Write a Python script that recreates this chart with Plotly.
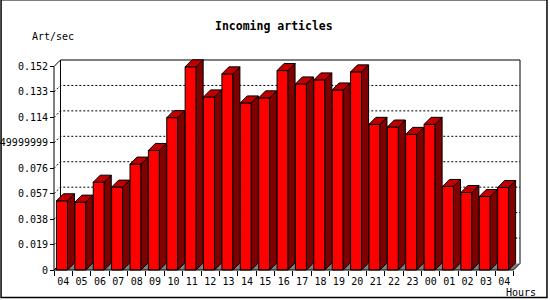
import plotly.graph_objects as go

# ---- data ----
hours = ["04", "05", "06", "07", "08", "09", "10", "11", "12", "13", "14", "15",
         "16", "17", "18", "19", "20", "21", "22", "23", "00", "01", "02", "03", "04"]
values = [0.0517, 0.0507, 0.0656, 0.0619, 0.0791, 0.0893, 0.1138, 0.1518, 0.1293,
          0.1465, 0.1248, 0.1286, 0.149, 0.139, 0.142, 0.1345, 0.148, 0.1088,
          0.1068, 0.1013, 0.1088, 0.0624, 0.0579, 0.0549, 0.0616]
ytickvals = [0, 0.019, 0.038, 0.057, 0.076, 0.095, 0.114, 0.133, 0.152]
yticktext = ["0", "0.019", "0.038", "0.057", "0.076", "0.0949999999", "0.114", "0.133", "0.152"]
title = "Incoming articles"
ylabel = "Art/sec"
xlabel = "Hours"

# ---- geometry (pixels) ----
n = len(values)
ymax = ytickvals[-1]
PX_X = 18.4                 # pixels per category
PX_Y = 203.0 / ymax         # pixels per value unit
DEPTH_BAR = 7.0
DEPTH_WALL = 6.5
PAD = 2.0
dxb, dyb = DEPTH_BAR / PX_X, DEPTH_BAR / PX_Y
dxw, dyw = DEPTH_WALL / PX_X, DEPTH_WALL / PX_Y
padx, pady = PAD / PX_X, PAD / PX_Y

x0r = -0.5 - padx
x1r = n - 0.5 + dxw + padx
y0r = -pady
y1r = ymax + dyw + pady
PW = (x1r - x0r) * PX_X
PH = (y1r - y0r) * PX_Y
L = 54.0 - PAD
B = 30.0 - PAD
T = 300.0 - B - PH
R = 550.0 - L - PW


def pxp(px):
    return (px - L) / PW


def pyp(py):
    return 1 - (py - T) / PH


FRONT_W = 0.6
FRONT_OFF = -0.065
xs = [i + FRONT_OFF for i in range(n)]

fig = go.Figure()
fig.add_trace(go.Bar(x=xs, y=values, width=FRONT_W,
                     marker=dict(color="#FF0000", line=dict(color="black", width=1)),
                     hoverinfo="skip"))

side_x, side_y, top_x, top_y = [], [], [], []
for xc, v in zip(xs, values):
    xl = xc - FRONT_W / 2
    xr = xc + FRONT_W / 2
    side_x += [xr, xr, xr + dxb, xr + dxb, xr, None]
    side_y += [0, v, v + dyb, dyb, 0, None]
    top_x += [xl, xl + dxb, xr + dxb, xr, xl, None]
    top_y += [v, v + dyb, v + dyb, v, v, None]

fig.add_trace(go.Scatter(x=side_x, y=side_y, mode="lines", fill="toself",
                         fillcolor="#800000", line=dict(color="black", width=1),
                         hoverinfo="skip"))
fig.add_trace(go.Scatter(x=top_x, y=top_y, mode="lines", fill="toself",
                         fillcolor="#C00000", line=dict(color="black", width=1),
                         hoverinfo="skip"))

shapes = []
xa, xb = -0.5, n - 0.5
# floor
shapes.append(dict(type="path", xref="x", yref="y", layer="below",
                   path=f"M{xa},0 L{xb},0 L{xb+dxw},{dyw} L{xa+dxw},{dyw} Z",
                   fillcolor="#808080", line=dict(width=0)))
# gridlines
for v in ytickvals[1:-1]:
    shapes.append(dict(type="path", xref="x", yref="y", layer="below",
                       path=f"M{xa},{v} L{xa+dxw},{v+dyw} L{xb+dxw},{v+dyw}",
                       line=dict(color="black", width=1, dash="2px,2px")))
# back wall outline
shapes.append(dict(type="path", xref="x", yref="y", layer="below",
                   path=(f"M{xa},{ymax} L{xa+dxw},{ymax+dyw} L{xb+dxw},{ymax+dyw} "
                         f"L{xb+dxw},{dyw} L{xb},0"),
                   line=dict(color="black", width=1)))
shapes.append(dict(type="line", xref="x", yref="y", layer="below",
                   x0=xa + dxw, y0=dyw, x1=xa + dxw, y1=ymax + dyw,
                   line=dict(color="black", width=1)))
shapes.append(dict(type="line", xref="x", yref="y", layer="below",
                   x0=xa, y0=0, x1=xa + dxw, y1=dyw,
                   line=dict(color="black", width=1)))
# front axes
shapes.append(dict(type="line", xref="x", yref="y", x0=xa, y0=0, x1=xa, y1=ymax,
                   line=dict(color="black", width=1)))
shapes.append(dict(type="line", xref="x", yref="y", x0=xa, y0=0, x1=xb, y1=0,
                   line=dict(color="black", width=1)))
# outer border
shapes.append(dict(type="rect", xref="paper", yref="paper",
                   x0=pxp(1.0), y0=pyp(0.5), x1=pxp(547.5), y1=pyp(297.5),
                   line=dict(color="black", width=1.5)))

mono = "DejaVu Sans Mono"
annotations = [
    dict(text=f"<b>{title}</b>", x=pxp(274), y=pyp(27), xref="paper", yref="paper",
         xanchor="center", yanchor="middle", showarrow=False,
         font=dict(family=mono, size=11.5, color="black")),
    dict(text=ylabel, x=pxp(30), y=pyp(37), xref="paper", yref="paper",
         xanchor="left", yanchor="middle", showarrow=False,
         font=dict(family=mono, size=10, color="black")),
    dict(text=xlabel, x=pxp(504), y=pyp(292), xref="paper", yref="paper",
         xanchor="left", yanchor="middle", showarrow=False,
         font=dict(family=mono, size=10, color="black")),
]

fig.update_layout(
    width=550, height=300,
    margin=dict(l=L, r=R, t=T, b=B, pad=0, autoexpand=False),
    paper_bgcolor="white", plot_bgcolor="white",
    showlegend=False,
    shapes=shapes, annotations=annotations,
    xaxis=dict(range=[x0r, x1r], showgrid=False, zeroline=False, showline=False,
               automargin=False,
               tickmode="array", tickvals=list(range(n)), ticktext=hours,
               ticks="outside", ticklen=2, tickcolor="rgba(0,0,0,0)",
               anchor="free", position=(0 - y0r) / (y1r - y0r),
               tickfont=dict(family=mono, size=10, color="black"),
               minor=dict(tickmode="array", tickvals=[i - 0.5 for i in range(n + 1)],
                          ticks="outside", ticklen=5, tickcolor="black", showgrid=False)),
    yaxis=dict(range=[y0r, y1r], showgrid=False, zeroline=False, showline=False,
               automargin=False,
               tickmode="array", tickvals=ytickvals, ticktext=yticktext,
               ticks="outside", ticklen=4, tickcolor="black",
               anchor="free", position=(xa - x0r) / (x1r - x0r),
               tickfont=dict(family=mono, size=10, color="black")),
)

fig.write_html("out.html")
